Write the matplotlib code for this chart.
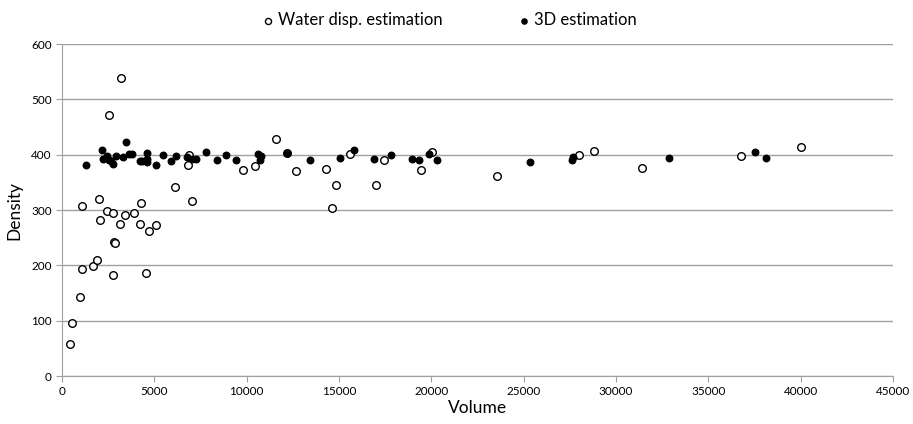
import matplotlib
matplotlib.use("Agg")
import matplotlib.pyplot as plt

# Water displacement estimation (open circles)
water_vol = [415, 560, 960, 1065, 1100, 1660, 1895, 1985, 2060, 2530, 2455, 2760, 2760,
             2820, 2870, 3195, 3160, 3410, 3920, 4240, 4280, 4530, 4730, 5070, 6140,
             6805, 6860, 7040, 9800, 10450, 11600, 12200, 12700, 14280, 14820, 14640,
             15600, 17000, 17450, 19420, 20020, 23580, 27980, 28830, 31400, 36770, 40020]
water_dens = [58, 96, 142, 308, 193, 199, 210, 320, 282, 471, 299, 295, 182,
              242, 241, 539, 274, 291, 294, 274, 313, 187, 262, 273, 342,
              381, 400, 316, 373, 379, 428, 403, 370, 374, 345, 303,
              401, 345, 391, 373, 404, 361, 399, 407, 376, 397, 414]

# 3D estimation (filled circles)
est3d_vol = [1320, 2185, 2220, 2440, 2530, 2670, 2760, 2920, 3320, 3480, 3630, 3790,
             4240, 4350, 4600, 4600, 4600, 5070, 5450, 5900, 6155, 6770, 7040, 7240,
             7780, 8410, 8900, 9440, 10610, 10790, 10740, 12200, 13410, 15050, 15830,
             16900, 17820, 18940, 19310, 19890, 20330, 25330, 27620, 27680, 32860,
             37550, 38110]
est3d_dens = [381, 408, 392, 398, 390, 389, 384, 397, 396, 423, 401, 402,
              389, 389, 403, 393, 387, 381, 399, 389, 398, 395, 392, 392,
              405, 391, 399, 391, 402, 398, 390, 403, 390, 394, 408,
              393, 399, 392, 391, 402, 391, 386, 390, 395, 394,
              405, 394]

plt.rcParams['font.family'] = ['Lato', 'DejaVu Sans']

fig = plt.figure(figsize=(9.13, 4.24), dpi=100)
ax = fig.add_axes([0.0679, 0.1132, 0.9101, 0.7830])

ax.scatter(water_vol, water_dens, s=30, facecolors='white', edgecolors='black',
           linewidths=1.0, label='Water disp. estimation', zorder=3)
ax.scatter(est3d_vol, est3d_dens, s=22, color='black', label='3D estimation', zorder=4)

ax.set_xlim(0, 45000)
ax.set_ylim(0, 600)
ax.set_xticks(range(0, 45001, 5000))
ax.set_yticks(range(0, 601, 100))
ax.grid(axis='y', color='#a0a0a0', linewidth=1)
ax.set_axisbelow(True)

for side in ['top', 'right']:
    ax.spines[side].set_visible(False)
for side in ['left', 'bottom']:
    ax.spines[side].set_color('#a0a0a0')
ax.tick_params(axis='both', colors='#a0a0a0', labelcolor='black', labelsize=8.5, length=4)

ax.set_xlabel('Volume', fontsize=12.5, labelpad=2)
ax.set_ylabel('Density', fontsize=12.5, labelpad=6)

fig.legend(loc='upper center', bbox_to_anchor=(0.49, 1.007), ncol=2, frameon=False,
           fontsize=12, handletextpad=0.0, handlelength=1.2, columnspacing=4.3,
           markerscale=0.8)

fig.savefig('out.png', dpi=100)
